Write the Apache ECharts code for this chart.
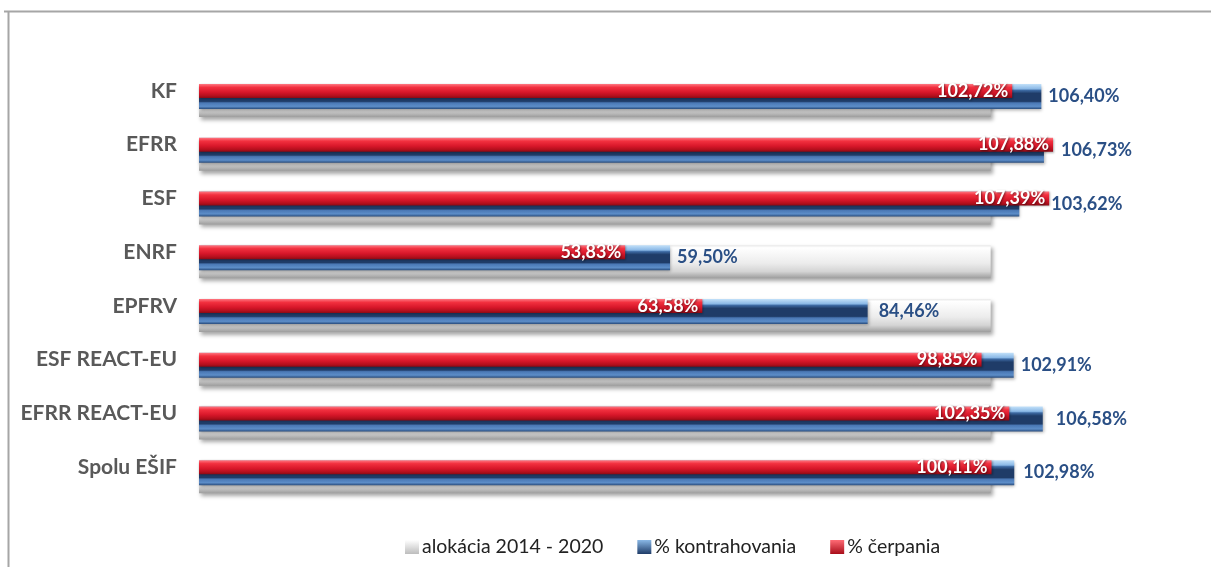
<!DOCTYPE html>
<html>
<head>
<meta charset="utf-8">
<script src="https://cdn.jsdelivr.net/npm/echarts@6/dist/echarts.min.js"></script>
<style>
html,body{margin:0;padding:0;background:#fff;}
#c{width:1211px;height:567px;}
</style>
</head>
<body>
<div id="c"></div>
<script>
var categories = ['KF', 'EFRR', 'ESF', 'ENRF', 'EPFRV', 'ESF REACT-EU', 'EFRR REACT-EU', 'Spolu EŠIF'];
var alokacia = [100, 100, 100, 100, 100, 100, 100, 100];
var kontrahovanie = [106.40, 106.73, 103.62, 59.50, 84.46, 102.91, 106.58, 102.98];
var cerpanie = [102.72, 107.88, 107.39, 53.83, 63.58, 98.85, 102.35, 100.11];
var seriesNames = ['alokácia 2014 - 2020', '% kontrahovania', '% čerpania'];
// extra label offsets for the blue labels (to clear the red bar), index-aligned with categories
var blueLabelShift = [0, 10, 25, 0, 4, 0, 6, 2];

function fmt(v) { return v.toFixed(2).replace('.', ',') + '%'; }
function vgrad(stops) {
  return new echarts.graphic.LinearGradient(0, 0, 0, 1, stops.map(function (s) { return { offset: s[0], color: s[1] }; }));
}

var chart = echarts.init(document.getElementById('c'), null, { renderer: 'canvas' });

var greyStyle = {
  color: vgrad([[0, '#e8e8e8'], [0.08, '#ffffff'], [0.55, '#ececec'], [0.8, '#d4d4d4'], [1, '#9e9e9e']]),
  shadowColor: 'rgba(0,0,0,0.35)', shadowBlur: 4, shadowOffsetX: 2, shadowOffsetY: 3
};
var blueStyle = {
  color: vgrad([[0, '#c4e2fa'], [0.2, '#8ab8e6'], [0.26, '#3d6aa3'], [0.38, '#1f3c68'], [0.7, '#1f3c68'], [0.76, '#4a78b5'], [0.9, '#5c8dc8'], [1, '#2b4f80']]),
  shadowColor: 'rgba(0,0,0,0.3)', shadowBlur: 3, shadowOffsetX: 1, shadowOffsetY: 2
};
var redStyle = {
  color: vgrad([[0, '#ff7a84'], [0.25, '#f2303f'], [0.6, '#d8172a'], [0.85, '#b40f1d'], [1, '#8e0a15']]),
  shadowColor: 'rgba(0,0,0,0.3)', shadowBlur: 2, shadowOffsetX: 1, shadowOffsetY: 1
};

var blueData = kontrahovanie.map(function (v, i) {
  return { value: v, label: { offset: [blueLabelShift[i], 0] } };
});

chart.setOption({
  animation: false,
  backgroundColor: '#ffffff',
  textStyle: { fontFamily: 'Lato, "Open Sans", sans-serif' },
  grid: { left: 199, right: 62, top: 64, height: 430, containLabel: false },
  xAxis: { type: 'value', min: 0, max: 120, show: false, splitLine: { show: false } },
  yAxis: {
    type: 'category', data: categories, inverse: true,
    axisLine: { show: false }, axisTick: { show: false },
    axisLabel: { margin: 22, color: '#595959', fontSize: 21, fontWeight: 'bold', fontFamily: 'Lato, sans-serif' }
  },
  legend: {
    bottom: 5, left: 400, itemGap: 34, itemWidth: 14, itemHeight: 14,
    icon: 'rect',
    textStyle: { color: '#222', fontSize: 19.5, fontFamily: 'Lato, sans-serif', padding: [0, 0, 0, -2] },
    data: [
      { name: seriesNames[0], itemStyle: { color: vgrad([[0, '#ffffff'], [1, '#bdbdbd']]) } },
      { name: seriesNames[1], itemStyle: { color: vgrad([[0, '#8ab8e6'], [1, '#1f3c68']]) } },
      { name: seriesNames[2], itemStyle: { color: vgrad([[0, '#ff6b75'], [1, '#a80d1a']]) } }
    ]
  },
  graphic: [
    { type: 'line', shape: { x1: 4, y1: 11.5, x2: 1211, y2: 11.5 }, style: { stroke: '#a6a6a6', lineWidth: 2 } },
    { type: 'line', shape: { x1: 8.5, y1: 11, x2: 8.5, y2: 567 }, style: { stroke: '#a6a6a6', lineWidth: 2 } }
  ],
  series: [
    {
      name: seriesNames[0], type: 'bar', data: alokacia, barWidth: 33, barGap: '-100%',
      itemStyle: greyStyle, z: 1
    },
    {
      name: seriesNames[1], type: 'bar', data: blueData, barWidth: 25, barGap: '-100%',
      itemStyle: blueStyle, z: 2,
      label: {
        show: true, position: 'right', distance: 7,
        formatter: function (p) { return fmt(p.value); },
        color: '#2a4f85', fontSize: 18, fontWeight: 'bold', fontFamily: 'Lato, sans-serif'
      }
    },
    {
      name: seriesNames[2], type: 'bar', data: cerpanie, barWidth: 14, barGap: '-100%',
      itemStyle: redStyle, z: 3,
      label: {
        show: true, position: 'insideRight', distance: 4,
        formatter: function (p) { return fmt(p.value); },
        color: '#ffffff', fontSize: 18, fontWeight: 'bold', fontFamily: 'Lato, sans-serif',
        textShadowColor: 'rgba(0,0,0,0.45)', textShadowBlur: 2, textShadowOffsetX: 1, textShadowOffsetY: 1
      }
    }
  ]
});
</script>
</body>
</html>
